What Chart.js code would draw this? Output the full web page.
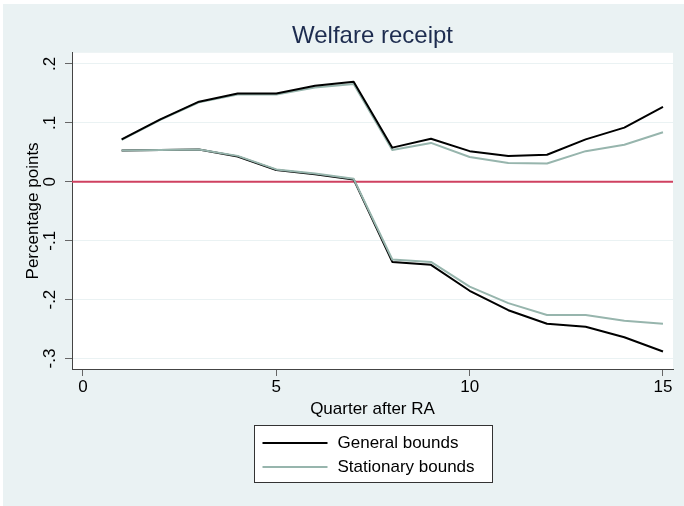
<!DOCTYPE html>
<html>
<head>
<meta charset="utf-8">
<script src="https://cdn.jsdelivr.net/npm/chart.js@4.4.1/dist/chart.umd.min.js"></script>
<style>
  html, body { margin: 0; padding: 0; background: #ffffff; }
  canvas { display: block; }
</style>
</head>
<body>
<canvas id="myChart" width="684" height="506"></canvas>
<script>
// values
var quarters = [1, 2, 3, 4, 5, 6, 7, 8, 9, 10, 11, 12, 13, 14, 15];
var generalUpper = [0.072, 0.106, 0.136, 0.150, 0.150, 0.163, 0.170, 0.058, 0.073, 0.052, 0.044, 0.046, 0.072, 0.092, 0.127];
var generalLower = [0.053, 0.054, 0.055, 0.043, 0.020, 0.013, 0.004, -0.136, -0.141, -0.185, -0.218, -0.241, -0.246, -0.264, -0.288];
var stationaryUpper = [0.071, 0.105, 0.135, 0.148, 0.148, 0.160, 0.166, 0.054, 0.066, 0.042, 0.032, 0.031, 0.052, 0.063, 0.084];
var stationaryLower = [0.053, 0.054, 0.055, 0.044, 0.021, 0.014, 0.005, -0.132, -0.136, -0.178, -0.206, -0.226, -0.226, -0.236, -0.241];

var xTicks = [0, 5, 10, 15];
var yTicks = [0.2, 0.1, 0, -0.1, -0.2, -0.3];
var yTickLabels = [".2", ".1", "0", "-.1", "-.2", "-.3"];
var seriesNames = ["General bounds", "Stationary bounds"];

var FONT = "'Liberation Sans', Arial, Helvetica, sans-serif";
var generalColor = "#000000";
var stationaryColor = "#97b5ad";

function toPoints(values) {
    return quarters.map((q, i) => ({ x: q, y: values[i] }));
}

// light background, white plot region, red zero line
const backdrop = {
    id: "backdrop",
    beforeDraw(chart) {
        const ctx = chart.ctx;
        const a = chart.chartArea;
        ctx.save();
        ctx.fillStyle = "#ffffff";
        ctx.fillRect(0, 0, chart.width, chart.height);
        ctx.fillStyle = "#eaf2f3";
        ctx.fillRect(3, 4, chart.width - 3, chart.height - 4);
        ctx.fillStyle = "#ffffff";
        ctx.fillRect(a.left, a.top, a.right - a.left, a.bottom - a.top);
        ctx.restore();
    },
    beforeDatasetsDraw(chart) {
        const ctx = chart.ctx;
        const a = chart.chartArea;
        const y0 = chart.scales.y.getPixelForValue(0);
        ctx.save();
        ctx.strokeStyle = "#cf4160";
        ctx.lineWidth = 2;
        ctx.beginPath();
        ctx.moveTo(a.left, y0);
        ctx.lineTo(a.right, y0);
        ctx.stroke();
        ctx.restore();
    }
};

// boxed legend under the axis title, like the Stata one
const boxLegend = {
    id: "boxLegend",
    afterDraw(chart) {
        const ctx = chart.ctx;
        const a = chart.chartArea;
        const colors = [generalColor, stationaryColor];
        const cx = (a.left + a.right) / 2;
        const bx = Math.round(cx - 119) + 0.5;
        const by = 425.5;
        ctx.save();
        ctx.fillStyle = "#ffffff";
        ctx.fillRect(bx, by, 238, 57);
        ctx.strokeStyle = "#333333";
        ctx.lineWidth = 1;
        ctx.strokeRect(bx, by, 238, 57);
        ctx.font = "17px " + FONT;
        ctx.textBaseline = "middle";
        ctx.textAlign = "left";
        seriesNames.forEach((name, i) => {
            const ly = 443 + i * 24;
            ctx.strokeStyle = colors[i];
            ctx.lineWidth = 2;
            ctx.beginPath();
            ctx.moveTo(bx + 8, ly);
            ctx.lineTo(bx + 73, ly);
            ctx.stroke();
            ctx.fillStyle = "#000000";
            ctx.fillText(name, bx + 83, ly);
        });
        ctx.restore();
    }
};

// first dataset ends up on top
new Chart("myChart", {
    type: "line",
    data: {
        datasets: [
            { label: seriesNames[0], data: toPoints(generalUpper), borderColor: generalColor },
            { label: seriesNames[1], data: toPoints(stationaryLower), borderColor: stationaryColor },
            { label: seriesNames[1], data: toPoints(stationaryUpper), borderColor: stationaryColor },
            { label: seriesNames[0], data: toPoints(generalLower), borderColor: generalColor }
        ]
    },
    options: {
        responsive: false,
        animation: false,
        devicePixelRatio: 1,
        layout: { padding: { left: 0, right: 11, top: 0, bottom: 0 } },
        elements: {
            line: { borderWidth: 2, tension: 0, fill: false, borderJoinStyle: "round" },
            point: { radius: 0, hoverRadius: 0 }
        },
        plugins: {
            legend: { display: false },
            tooltip: { enabled: false },
            title: {
                display: true,
                fullSize: false,
                text: "Welfare receipt",
                color: "#1d2c4f",
                font: { family: FONT, size: 24, weight: "normal", lineHeight: 1.2 },
                padding: { top: 22, bottom: 2 }
            }
        },
        scales: {
            x: {
                type: "linear",
                position: "bottom",
                min: -0.284,
                max: 15.259,
                afterBuildTicks: (s) => { s.ticks = xTicks.map(v => ({ value: v })); },
                afterFit: (s) => { s.height = 137; },
                ticks: {
                    color: "#000000",
                    font: { family: FONT, size: 17 },
                    padding: 1,
                    maxRotation: 0,
                    callback: (v) => String(v)
                },
                grid: { drawOnChartArea: false, drawTicks: true, tickLength: 7, tickColor: "#666666" },
                border: { display: true, color: "#444444", width: 1 },
                title: {
                    display: true,
                    text: "Quarter after RA",
                    color: "#000000",
                    font: { family: FONT, size: 17, lineHeight: 1.2 },
                    padding: { top: 0, bottom: 86.8 }
                }
            },
            y: {
                type: "linear",
                position: "left",
                min: -0.3178,
                max: 0.219,
                afterBuildTicks: (s) => { s.ticks = yTicks.map(v => ({ value: v })); },
                afterFit: (s) => { s.width = 72; },
                ticks: {
                    color: "#000000",
                    font: { family: FONT, size: 17 },
                    minRotation: 90,
                    maxRotation: 90,
                    crossAlign: "center",
                    padding: 5,
                    callback: (v) => {
                        const k = yTicks.findIndex(t => Math.abs(t - v) < 1e-9);
                        return k >= 0 ? yTickLabels[k] : "";
                    }
                },
                grid: { color: "#eaf2f3", lineWidth: 1, drawTicks: true, tickLength: 7, tickColor: "#666666" },
                border: { display: true, color: "#444444", width: 1 },
                title: {
                    display: true,
                    text: "Percentage points",
                    color: "#000000",
                    font: { family: FONT, size: 17, lineHeight: 1.2 },
                    padding: { top: 22.8, bottom: 0 }
                }
            }
        }
    },
    plugins: [backdrop, boxLegend]
});
</script>
</body>
</html>
